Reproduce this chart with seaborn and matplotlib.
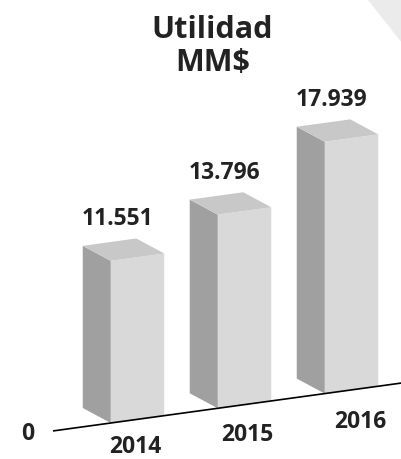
import numpy as np
import matplotlib
matplotlib.use("Agg")
import matplotlib.pyplot as plt
import seaborn as sns
from matplotlib.transforms import Affine2D
from matplotlib.patches import Polygon

# Data
years = ["2014", "2015", "2016"]
values = [11.551, 13.796, 17.939]
value_labels = ["11.551", "13.796", "17.939"]

# Colors
front_color = "#d9d9d9"
side_color = "#a0a0a0"
top_color = "#c8c8c8"
text_color = "#222222"

plt.rcParams["font.family"] = ["Open Sans", "DejaVu Sans"]

fig = plt.figure(figsize=(4.02, 4.59), dpi=100)
fig.patch.set_facecolor("white")

# light grey corner in the background
fig.patches.append(Polygon([[368 / 402, 1], [1, 1], [1, 1 - 43 / 459]], closed=True,
                           transform=fig.transFigure, facecolor="#ebebeb",
                           edgecolor="none", zorder=0))

ax = fig.add_axes([0, 0, 1, 1])
ax.patch.set_alpha(0)
sns.barplot(x=years, y=values, color=front_color, saturation=1, width=0.5,
            errorbar=None, ax=ax, zorder=2)
ax.set_xlim(-1.285, 2.472)
ax.set_ylim(-2.564, 30.13)
ax.axis("off")

# slant everything so the baseline rises to the right
px, py = ax.transData.transform((-0.25, 0))
slant = Affine2D().translate(-px, -py).skew(0, np.arctan(0.1375)).translate(px, py)
T = ax.transData + slant
Tinv = T.inverted()

depth = np.array([-28, 15])

for i, p in enumerate(ax.patches[:len(values)]):
    p.set_transform(T)
    p.set_edgecolor("none")
    x0, w, h = p.get_x(), p.get_width(), p.get_height()
    fl_b, fl_t, fr_t = T.transform([(x0, 0), (x0, h), (x0 + w, h)])
    side = np.array([fl_b, fl_t, fl_t + depth, fl_b + depth])
    top = np.array([fl_t, fr_t, fr_t + depth, fl_t + depth])
    ax.add_patch(Polygon(Tinv.transform(side), closed=True, transform=T,
                         facecolor=side_color, edgecolor="none", zorder=2))
    ax.add_patch(Polygon(Tinv.transform(top), closed=True, transform=T,
                         facecolor=top_color, edgecolor="none", zorder=2))

    # value label above the box
    ax.annotate(value_labels[i], xy=(i, values[i]), xycoords=T,
                xytext=(-20, 38), textcoords="offset pixels",
                ha="center", va="center", fontsize=16.5, fontweight="bold",
                color=text_color)
    # year label under the baseline (labels sit on a flatter line)
    ax.annotate(years[i], xy=(i, 0), xycoords=T,
                xytext=(3 + 5.5 * (i - 1), -30 - 2 * (i - 1)),
                textcoords="offset pixels",
                ha="center", va="center", fontsize=16.5, fontweight="bold",
                color=text_color)

# baseline
ax.plot([-0.79, 2.472], [0, 0], color="black", lw=1.2, transform=T, zorder=3,
        solid_capstyle="butt")
ax.annotate("0", xy=(-0.79, 0), xycoords=T, xytext=(-25, -3),
            textcoords="offset pixels", ha="center", va="center",
            fontsize=16.5, fontweight="bold", color=text_color)

fig.text(0.528, 0.899, "Utilidad\nMM$", ha="center", va="center",
         fontsize=22, fontweight="bold", color=text_color, linespacing=1.12)

plt.savefig("out.png", dpi=100)
